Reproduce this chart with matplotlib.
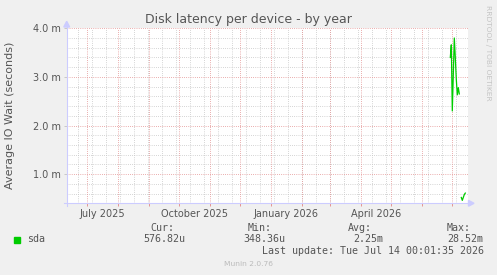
import matplotlib
matplotlib.use("Agg")
import matplotlib.pyplot as plt
import matplotlib.dates as mdates
from matplotlib.patches import Polygon, Rectangle
import numpy as np
from datetime import datetime, timedelta

# ---------------- data ----------------
dates = ["2026-06-29", "2026-06-30", "2026-07-01", "2026-07-02", "2026-07-03",
         "2026-07-04", "2026-07-05", "2026-07-06", "2026-07-07", "2026-07-08",
         "2026-07-09", "2026-07-10", "2026-07-11", "2026-07-12", "2026-07-13",
         "2026-07-14"]
lat_ms = [3.40, 3.66, 2.30, 3.05, 3.80,
          3.40, 2.95, 2.63, 2.78, 2.65,
          np.nan, 0.52, 0.46, 0.52, 0.58,
          0.61]
month_labels = ["July 2025", "October 2025", "January 2026", "April 2026"]
label_dates = ["2025-07-16", "2025-10-16", "2026-01-16", "2026-04-16"]
y_major = [1.0, 2.0, 3.0, 4.0]
y_labels = ["1.0 m", "2.0 m", "3.0 m", "4.0 m"]
series_name = "sda"
stat_heads = ["Cur:", "Min:", "Avg:", "Max:"]
stat_vals = ["576.82u", "348.36u", "2.25m", "28.52m"]
last_update = "Last update: Tue Jul 14 00:01:35 2026"
title = "Disk latency per device - by year"
ylabel = "Average IO Wait (seconds)"

# ---------------- style ----------------
W, H = 497, 275
BG = "#F0F0F0"
TXT = "#555555"
GREEN = "#00CC00"
MAJ = "#E49494"
MIN = "#C8C8C8"
AXC = "#CCCCFF"

fig = plt.figure(figsize=(W / 100, H / 100), dpi=100, facecolor=BG)
L, R, T, B = 66.5, 468.3, 28.3, 203.3
ax = fig.add_axes([L / W, 1 - B / H, (R - L) / W, (B - T) / H])
ax.set_facecolor("white")
for s in ax.spines.values():
    s.set_visible(False)

x0 = datetime(2025, 7, 1) - timedelta(days=20.8)
x1 = datetime(2026, 7, 1) + timedelta(days=16)
ax.set_xlim(x0, x1)
ax.set_ylim(0.4, 4.0)

dots = (0, (0.72, 1.44))

# minor vertical grid (biweekly, Sundays)
d = datetime(2025, 6, 22)
while d < x1:
    ax.axvline(d, color=MIN, lw=0.72, ls=dots, zorder=1)
    d += timedelta(days=14)
# minor horizontal grid
for yv in np.arange(0.6, 4.0, 0.2):
    if abs(yv - round(yv)) > 1e-6:
        ax.axhline(yv, color=MIN, lw=0.72, ls=dots, zorder=1)
# major vertical grid (month starts)
months = []
y_, m_ = 2025, 7
while datetime(y_, m_, 1) < x1:
    months.append(datetime(y_, m_, 1))
    m_ += 1
    if m_ > 12:
        m_ = 1
        y_ += 1
for md in months:
    ax.axvline(md, color=MAJ, lw=0.72, ls=dots, zorder=2)
for yv in y_major:
    ax.axhline(yv, color=MAJ, lw=0.72, ls=dots, zorder=2)

# ticks
ax.set_yticks(y_major)
ax.set_yticklabels(y_labels)
ax.tick_params(axis="y", length=2.2, width=0.7, color=MIN, pad=2,
               labelsize=7, labelcolor=TXT)
ax.set_xticks([mdates.datestr2num(s) for s in label_dates])
ax.set_xticklabels(month_labels)
ax.tick_params(axis="x", which="major", length=0, pad=4,
               labelsize=7, labelcolor=TXT)
ax.set_xticks(months, minor=True)
ax.tick_params(axis="x", which="minor", length=2.2, width=0.7, color=MAJ)

# data
xd = [datetime.strptime(s, "%Y-%m-%d") for s in dates]
ax.plot(xd, lat_ms, color=GREEN, lw=0.9, zorder=5, solid_joinstyle="round")

# axes lines and arrows (figure pixel coordinates)
def fx(x):
    return x / W

def fy(y):
    return 1 - y / H

fig.add_artist(plt.Line2D([fx(66.7), fx(66.7)], [fy(206), fy(26)],
                          color=AXC, lw=0.8))
fig.add_artist(plt.Line2D([fx(63.5), fx(470)], [fy(203.3), fy(203.3)],
                          color=AXC, lw=0.8))
fig.add_artist(Polygon([[fx(63.8), fy(27)], [fx(69.6), fy(27)], [fx(66.7), fy(21.3)]],
                       closed=True, color=AXC, transform=fig.transFigure))
fig.add_artist(Polygon([[fx(468.5), fy(200.4)], [fx(468.5), fy(206.2)], [fx(474), fy(203.3)]],
                       closed=True, color=AXC, transform=fig.transFigure))

# texts
fig.text(fx(248.5), fy(19), title, ha="center", va="center",
         fontsize=9, color=TXT, family="DejaVu Sans")
fig.text(fx(10.3), fy(115), ylabel, ha="center", va="center", rotation=90,
         fontsize=8, color=TXT, family="DejaVu Sans")
fig.text(fx(488.3), fy(53), "RRDTOOL / TOBI OETIKER", ha="center", va="center",
         rotation=270, fontsize=5.4, color="#C4C4C4", family="DejaVu Sans")
fig.text(fx(248), fy(264), "Munin 2.0.76", ha="center", va="center",
         fontsize=5.4, color="#BBBBBB", family="DejaVu Sans")

# legend
fig.add_artist(Rectangle((fx(14), fy(242.5)), 6 / W, 6 / H, color=GREEN,
                         transform=fig.transFigure))
mono = dict(family="DejaVu Sans Mono", fontsize=7.2, color=TXT, va="center", ha="left")
fig.text(fx(26.7), fy(239.5), series_name, **mono)
head_x = [150.0, 247.7, 347.7, 447.0]
val_x = [143.3, 243.0, 353.7, 447.3]
for hx, h in zip(head_x, stat_heads):
    fig.text(fx(hx), fy(228), h, **mono)
for vx, v in zip(val_x, stat_vals):
    fig.text(fx(vx), fy(239.5), v, **mono)
fig.text(fx(261.7), fy(251), last_update, **mono)

fig.savefig("out.png", dpi=100, facecolor=BG)
